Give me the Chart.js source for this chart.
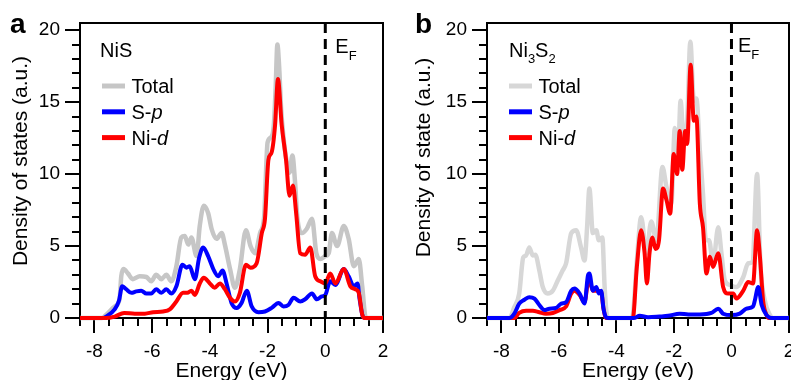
<!DOCTYPE html>
<html>
<head>
<meta charset="utf-8">
<script src="https://cdn.jsdelivr.net/npm/chart.js@4.4.1/dist/chart.umd.min.js"></script>
<style>
  html, body { margin: 0; padding: 0; background: #fff; }
  #wrap { position: relative; width: 791px; height: 380px; overflow: hidden; }
  canvas { position: absolute; top: 0; }
  #chartA { left: 0; }
  #chartB { left: 400px; }
</style>
</head>
<body>
<div id="wrap">
  <canvas id="chartA" width="400" height="380"></canvas>
  <canvas id="chartB" width="391" height="380"></canvas>
</div>
<script>
const FONT = "'Liberation Sans', Arial, Helvetica, sans-serif";

const xTicks = [-8, -6, -4, -2, 0, 2];
const yTicks = [0, 5, 10, 15, 20];

// panel a - NiS
const nisTotalE = [-8.5, -7.75, -7.59, -7.3, -7.13, -7.07, -6.99, -6.84, -6.67, -6.43, -6.2, -6.03, -5.86, -5.68, -5.51, -5.33, -5.16, -4.99, -4.87, -4.75, -4.64, -4.46, -4.35, -4.21, -4.06, -3.94, -3.77, -3.59, -3.48, -3.3, -3.13, -2.96, -2.75, -2.59, -2.43, -2.26, -2.12, -2.0, -1.86, -1.78, -1.72, -1.66, -1.6, -1.53, -1.45, -1.35, -1.24, -1.14, -1.05, -0.97, -0.81, -0.64, -0.46, -0.31, -0.17, 0.0, 0.12, 0.23, 0.41, 0.64, 0.81, 0.99, 1.16, 1.28, 1.39, 1.45, 2];
const nisTotal = [0, 0, 0.23, 0.8, 1.3, 2.9, 3.4, 3.1, 2.7, 2.9, 2.85, 2.55, 3.0, 2.7, 3.0, 2.55, 3.6, 5.6, 5.7, 5.1, 5.6, 4.3, 6.4, 7.8, 7.3, 6.2, 5.5, 5.9, 5.1, 3.4, 2.1, 3.4, 6.1, 5.0, 4.5, 5.9, 7.0, 12.2, 12.6, 13.5, 16.0, 19.0, 17.5, 14.5, 12.6, 11.0, 10.1, 11.3, 9.5, 7.0, 5.9, 6.2, 6.9, 4.5, 4.1, 4.3, 4.5, 5.9, 5.0, 6.4, 5.5, 3.6, 4.1, 2.2, 0.1, 0, 0];
const nisSpE = [-8.5, -7.7, -7.59, -7.3, -7.15, -7.04, -6.9, -6.72, -6.55, -6.38, -6.2, -6.03, -5.86, -5.68, -5.51, -5.33, -5.16, -4.95, -4.81, -4.7, -4.52, -4.37, -4.23, -4.06, -3.88, -3.71, -3.56, -3.42, -3.25, -3.07, -2.9, -2.72, -2.55, -2.32, -2.09, -1.86, -1.62, -1.45, -1.28, -1.1, -0.87, -0.7, -0.46, -0.29, -0.12, 0.0, 0.17, 0.35, 0.64, 0.81, 0.99, 1.12, 1.19, 1.3, 1.36, 2];
const nisSp = [0, 0, 0.1, 0.6, 1.2, 2.2, 2.0, 1.75, 1.85, 1.9, 1.7, 1.7, 2.0, 1.75, 2.0, 1.7, 2.2, 3.7, 3.5, 3.6, 2.7, 4.2, 4.9, 4.3, 3.4, 2.9, 3.3, 2.4, 1.05, 0.7, 1.05, 1.9, 0.8, 0.4, 0.45, 0.7, 1.05, 0.8, 0.9, 1.4, 1.15, 1.3, 1.7, 1.3, 1.5, 1.6, 2.55, 2.3, 3.4, 2.9, 2.2, 2.4, 1.3, 0.1, 0, 0];
const nisNidE = [-8.5, -7.6, -7.3, -6.97, -6.6, -6.25, -5.97, -5.62, -5.39, -5.16, -4.93, -4.78, -4.64, -4.52, -4.35, -4.21, -4.0, -3.83, -3.65, -3.48, -3.3, -3.13, -2.96, -2.75, -2.59, -2.38, -2.2, -2.09, -1.97, -1.86, -1.74, -1.64, -1.51, -1.36, -1.24, -1.12, -1.01, -0.87, -0.7, -0.52, -0.35, -0.17, 0.0, 0.17, 0.35, 0.64, 0.87, 1.04, 1.16, 1.28, 1.36, 2];
const nisNid = [0, 0, 0.1, 0.35, 0.3, 0.3, 0.4, 0.45, 0.6, 1.15, 1.75, 1.75, 1.9, 1.6, 2.4, 2.8, 2.4, 2.1, 2.4, 2.0, 1.4, 1.15, 1.75, 3.7, 3.5, 3.8, 5.9, 6.9, 11.0, 11.5, 13.4, 16.6, 13.4, 11.0, 8.5, 9.2, 7.3, 4.5, 4.4, 4.9, 2.9, 2.55, 2.4, 3.1, 2.4, 3.4, 2.2, 2.0, 1.75, 0.25, 0, 0];

// panel b - Ni3S2
const ni3s2TotalE = [-8.5, -7.72, -7.55, -7.38, -7.24, -7.14, -7.03, -6.91, -6.82, -6.68, -6.56, -6.39, -6.21, -6.04, -5.87, -5.75, -5.57, -5.4, -5.23, -5.11, -5.02, -4.94, -4.82, -4.7, -4.61, -4.49, -4.41, -4.33, -4.25, -3.5, -3.43, -3.29, -3.14, -2.96, -2.79, -2.61, -2.4, -2.26, -2.09, -1.97, -1.86, -1.77, -1.66, -1.54, -1.43, -1.31, -1.22, -1.1, -0.99, -0.89, -0.78, -0.64, -0.46, -0.35, -0.23, -0.06, 0.17, 0.41, 0.58, 0.73, 0.89, 1.01, 1.16, 1.34, 1.45, 2];
const ni3s2Total = [0, 0, 0.75, 1.7, 4.2, 4.35, 4.9, 4.35, 4.4, 3.3, 2.15, 1.7, 1.9, 2.6, 3.3, 3.8, 5.9, 6.1, 4.9, 4.0, 6.3, 9.0, 5.9, 6.1, 5.4, 5.6, 2.15, 0.2, 0, 0, 0.2, 4.0, 7.0, 4.5, 6.7, 5.4, 10.5, 9.1, 7.95, 13.2, 11.2, 15.1, 12.35, 13.7, 19.2, 15.1, 15.25, 11.65, 8.6, 5.4, 5.4, 3.8, 6.3, 4.5, 2.6, 2.3, 2.15, 2.85, 3.8, 3.9, 10.0, 3.55, 1.2, 0.2, 0, 0];
const ni3s2SpE = [-8.5, -7.72, -7.55, -7.38, -7.2, -7.03, -6.85, -6.68, -6.5, -6.33, -6.1, -5.92, -5.75, -5.57, -5.46, -5.28, -5.11, -4.99, -4.94, -4.82, -4.7, -4.61, -4.53, -4.45, -4.36, -4.3, -3.4, -3.19, -2.9, -2.5, -2.2, -1.8, -1.5, -1.1, -0.7, -0.46, -0.29, 0.0, 0.29, 0.52, 0.75, 0.81, 0.93, 1.05, 1.22, 1.4, 2];
const ni3s2Sp = [0, 0, 0.3, 1.0, 1.27, 1.45, 1.35, 0.9, 0.55, 0.65, 0.7, 1.0, 1.1, 1.9, 2.05, 1.7, 1.0, 2.95, 3.1, 1.9, 2.15, 1.7, 1.9, 0.65, 0.05, 0, 0, 0.15, 0.05, 0.1, 0.15, 0.3, 0.25, 0.25, 0.35, 0.65, 0.3, 0.2, 0.3, 0.65, 0.8, 1.2, 2.15, 0.9, 0.2, 0, 0];
const ni3s2NidE = [-8.5, -7.55, -7.38, -7.14, -6.91, -6.68, -6.45, -6.21, -5.98, -5.75, -5.57, -5.46, -5.28, -5.11, -4.96, -4.82, -4.65, -4.53, -4.45, -4.36, -3.43, -3.29, -3.14, -3.02, -2.94, -2.85, -2.75, -2.64, -2.52, -2.38, -2.26, -2.13, -2.01, -1.89, -1.8, -1.71, -1.61, -1.54, -1.42, -1.31, -1.22, -1.1, -0.99, -0.87, -0.75, -0.64, -0.46, -0.29, -0.12, 0.06, 0.17, 0.41, 0.58, 0.75, 0.89, 0.99, 1.1, 1.22, 1.3, 2];
const ni3s2Nid = [0, 0, 0.35, 0.5, 0.5, 0.4, 0.3, 0.35, 0.55, 0.8, 1.7, 1.9, 1.6, 1.1, 2.75, 1.9, 1.9, 1.8, 0.65, 0, 0, 3.55, 6.1, 4.5, 2.4, 4.5, 5.6, 4.8, 5.4, 9.0, 8.2, 7.25, 11.4, 10.0, 13.0, 10.3, 13.0, 12.1, 17.6, 13.7, 14.0, 7.95, 6.3, 3.1, 4.25, 3.55, 4.5, 2.15, 1.7, 1.7, 1.35, 1.9, 2.5, 2.4, 6.1, 4.25, 1.2, 0.2, 0, 0];

const BLUE = '#0000ff';
const RED = '#ff0000';

function pts(xs, ys) {
  return xs.map((x, i) => ({ x: x, y: ys[i] }));
}

function line(data, color, width, order) {
  return {
    data: data,
    borderColor: color,
    borderWidth: width,
    pointRadius: 0,
    fill: false,
    cubicInterpolationMode: 'monotone',
    clip: false,
    order: order
  };
}

// draw a run of text pieces (normal / italic / sub)
function drawRuns(ctx, runs, x, y) {
  runs.forEach(r => {
    ctx.font = (r.italic ? 'italic ' : '') + (r.size || 20) + 'px ' + FONT;
    ctx.fillText(r.t, x, y + (r.dy || 0));
    x += ctx.measureText(r.t).width;
  });
}

function makeDeco(cfg) {
  return {
    id: 'deco',
    beforeDatasetsDraw(chart) {
      const ctx = chart.ctx;
      const a = chart.chartArea;
      const xs = chart.scales.x, ys = chart.scales.y;
      ctx.save();
      ctx.strokeStyle = '#000';
      ctx.lineWidth = 2;
      ctx.strokeRect(a.left, a.top, a.right - a.left, a.bottom - a.top);
      ctx.beginPath();
      for (let v = 0; v <= 20; v++) {
        const len = v % 5 === 0 ? 15 : 8;
        const y = Math.round(ys.getPixelForValue(v));
        ctx.moveTo(a.left - len, y);
        ctx.lineTo(a.left, y);
      }
      for (let i = -17; i <= 4; i++) {
        const len = i % 4 === 0 ? 15 : 8;
        const x = Math.round(xs.getPixelForValue(i / 2));
        ctx.moveTo(x, a.bottom);
        ctx.lineTo(x, a.bottom + len);
      }
      ctx.stroke();
      ctx.restore();
    },
    afterDatasetsDraw(chart) {
      const ctx = chart.ctx;
      const a = chart.chartArea;
      const x0 = chart.scales.x.getPixelForValue(0);
      ctx.save();
      // Fermi level
      ctx.strokeStyle = '#000';
      ctx.lineWidth = 3;
      ctx.setLineDash([10, 6]);
      ctx.beginPath();
      ctx.moveTo(x0, a.top);
      ctx.lineTo(x0, a.bottom);
      ctx.stroke();
      ctx.setLineDash([]);

      ctx.fillStyle = '#000';
      ctx.textAlign = 'left';
      ctx.textBaseline = 'alphabetic';
      drawRuns(ctx, [{ t: 'E', size: 20 }, { t: 'F', size: 13, dy: cfg.efSub }], x0 + cfg.efDx, cfg.efY);

      // panel letter
      ctx.font = 'bold 28px ' + FONT;
      ctx.fillText(cfg.letter, cfg.letterX, 33);

      // material name
      drawRuns(ctx, cfg.name, a.left + cfg.nameDx, 57);

      // legend
      const items = [
        { color: cfg.gray, runs: [{ t: 'Total' }] },
        { color: BLUE, runs: [{ t: 'S-' }, { t: 'p', italic: true }] },
        { color: RED, runs: [{ t: 'Ni-' }, { t: 'd', italic: true }] }
      ];
      items.forEach((it, i) => {
        const y = 86 + i * 25.8;
        ctx.strokeStyle = it.color;
        ctx.lineWidth = 5;
        ctx.beginPath();
        ctx.moveTo(a.left + 22, y);
        ctx.lineTo(a.left + 45, y);
        ctx.stroke();
        ctx.fillStyle = '#000';
        drawRuns(ctx, it.runs, a.left + 51.5, y + 7);
      });

      // axis titles
      ctx.font = '21px ' + FONT;
      ctx.textAlign = 'center';
      ctx.fillText('Energy (eV)', (a.left + a.right) / 2, 377);
      ctx.translate(cfg.yTitleX, cfg.yTitleY);
      ctx.rotate(-Math.PI / 2);
      ctx.fillText(cfg.yTitle, 0, 0);
      ctx.restore();
    }
  };
}

function makePanel(id, datasets, cfg) {
  return new Chart(document.getElementById(id), {
    type: 'line',
    data: { datasets: datasets },
    options: {
      responsive: false,
      animation: false,
      events: [],
      layout: { padding: { top: cfg.padTop, right: cfg.padRight, left: 0, bottom: 0 } },
      plugins: { legend: { display: false }, tooltip: { enabled: false } },
      scales: {
        x: {
          type: 'linear', min: -8.5, max: 2,
          grid: { display: false, drawTicks: false },
          border: { display: false },
          ticks: { color: '#000', font: { family: FONT, size: 19 }, padding: 22, maxRotation: 0, autoSkip: false },
          afterBuildTicks: s => { s.ticks = xTicks.map(v => ({ value: v })); },
          afterFit: s => { s.height = 62; s.paddingLeft = 0; s.paddingRight = 0; }
        },
        y: {
          type: 'linear', min: 0, max: 20.5,
          grid: { display: false, drawTicks: false },
          border: { display: false },
          ticks: { color: '#000', font: { family: FONT, size: 19 }, padding: 20 },
          afterBuildTicks: s => { s.ticks = yTicks.map(v => ({ value: v })); },
          afterFit: s => { s.width = cfg.yWidth; s.paddingTop = 0; s.paddingBottom = 0; }
        }
      }
    },
    plugins: [makeDeco(cfg)]
  });
}

const GRAY_A = '#c6c6c6';
const GRAY_B = '#d7d7d7';

makePanel('chartA', [
  line(pts(nisNidE, nisNid), RED, 4, 0),
  line(pts(nisSpE, nisSp), BLUE, 4, 1),
  line(pts(nisTotalE, nisTotal), GRAY_A, 4.5, 2)
], {
  padTop: 23, padRight: 17, yWidth: 80,
  gray: GRAY_A, letter: 'a', letterX: 10,
  name: [{ t: 'NiS' }], nameDx: 20,
  efDx: 10, efY: 53, efSub: 7,
  yTitle: 'Density of states (a.u.)', yTitleX: 27, yTitleY: 161
});

makePanel('chartB', [
  line(pts(ni3s2SpE, ni3s2Sp), BLUE, 4, 0),
  line(pts(ni3s2NidE, ni3s2Nid), RED, 4, 1),
  line(pts(ni3s2TotalE, ni3s2Total), GRAY_B, 4.5, 2)
], {
  padTop: 23, padRight: 2, yWidth: 87,
  gray: GRAY_B, letter: 'b', letterX: 15,
  name: [{ t: 'Ni' }, { t: '3', size: 13, dy: 6 }, { t: 'S' }, { t: '2', size: 13, dy: 6 }], nameDx: 22,
  efDx: 6.5, efY: 52, efSub: 7,
  yTitle: 'Density of state (a.u.)', yTitleX: 30, yTitleY: 157.5
});
</script>
</body>
</html>
